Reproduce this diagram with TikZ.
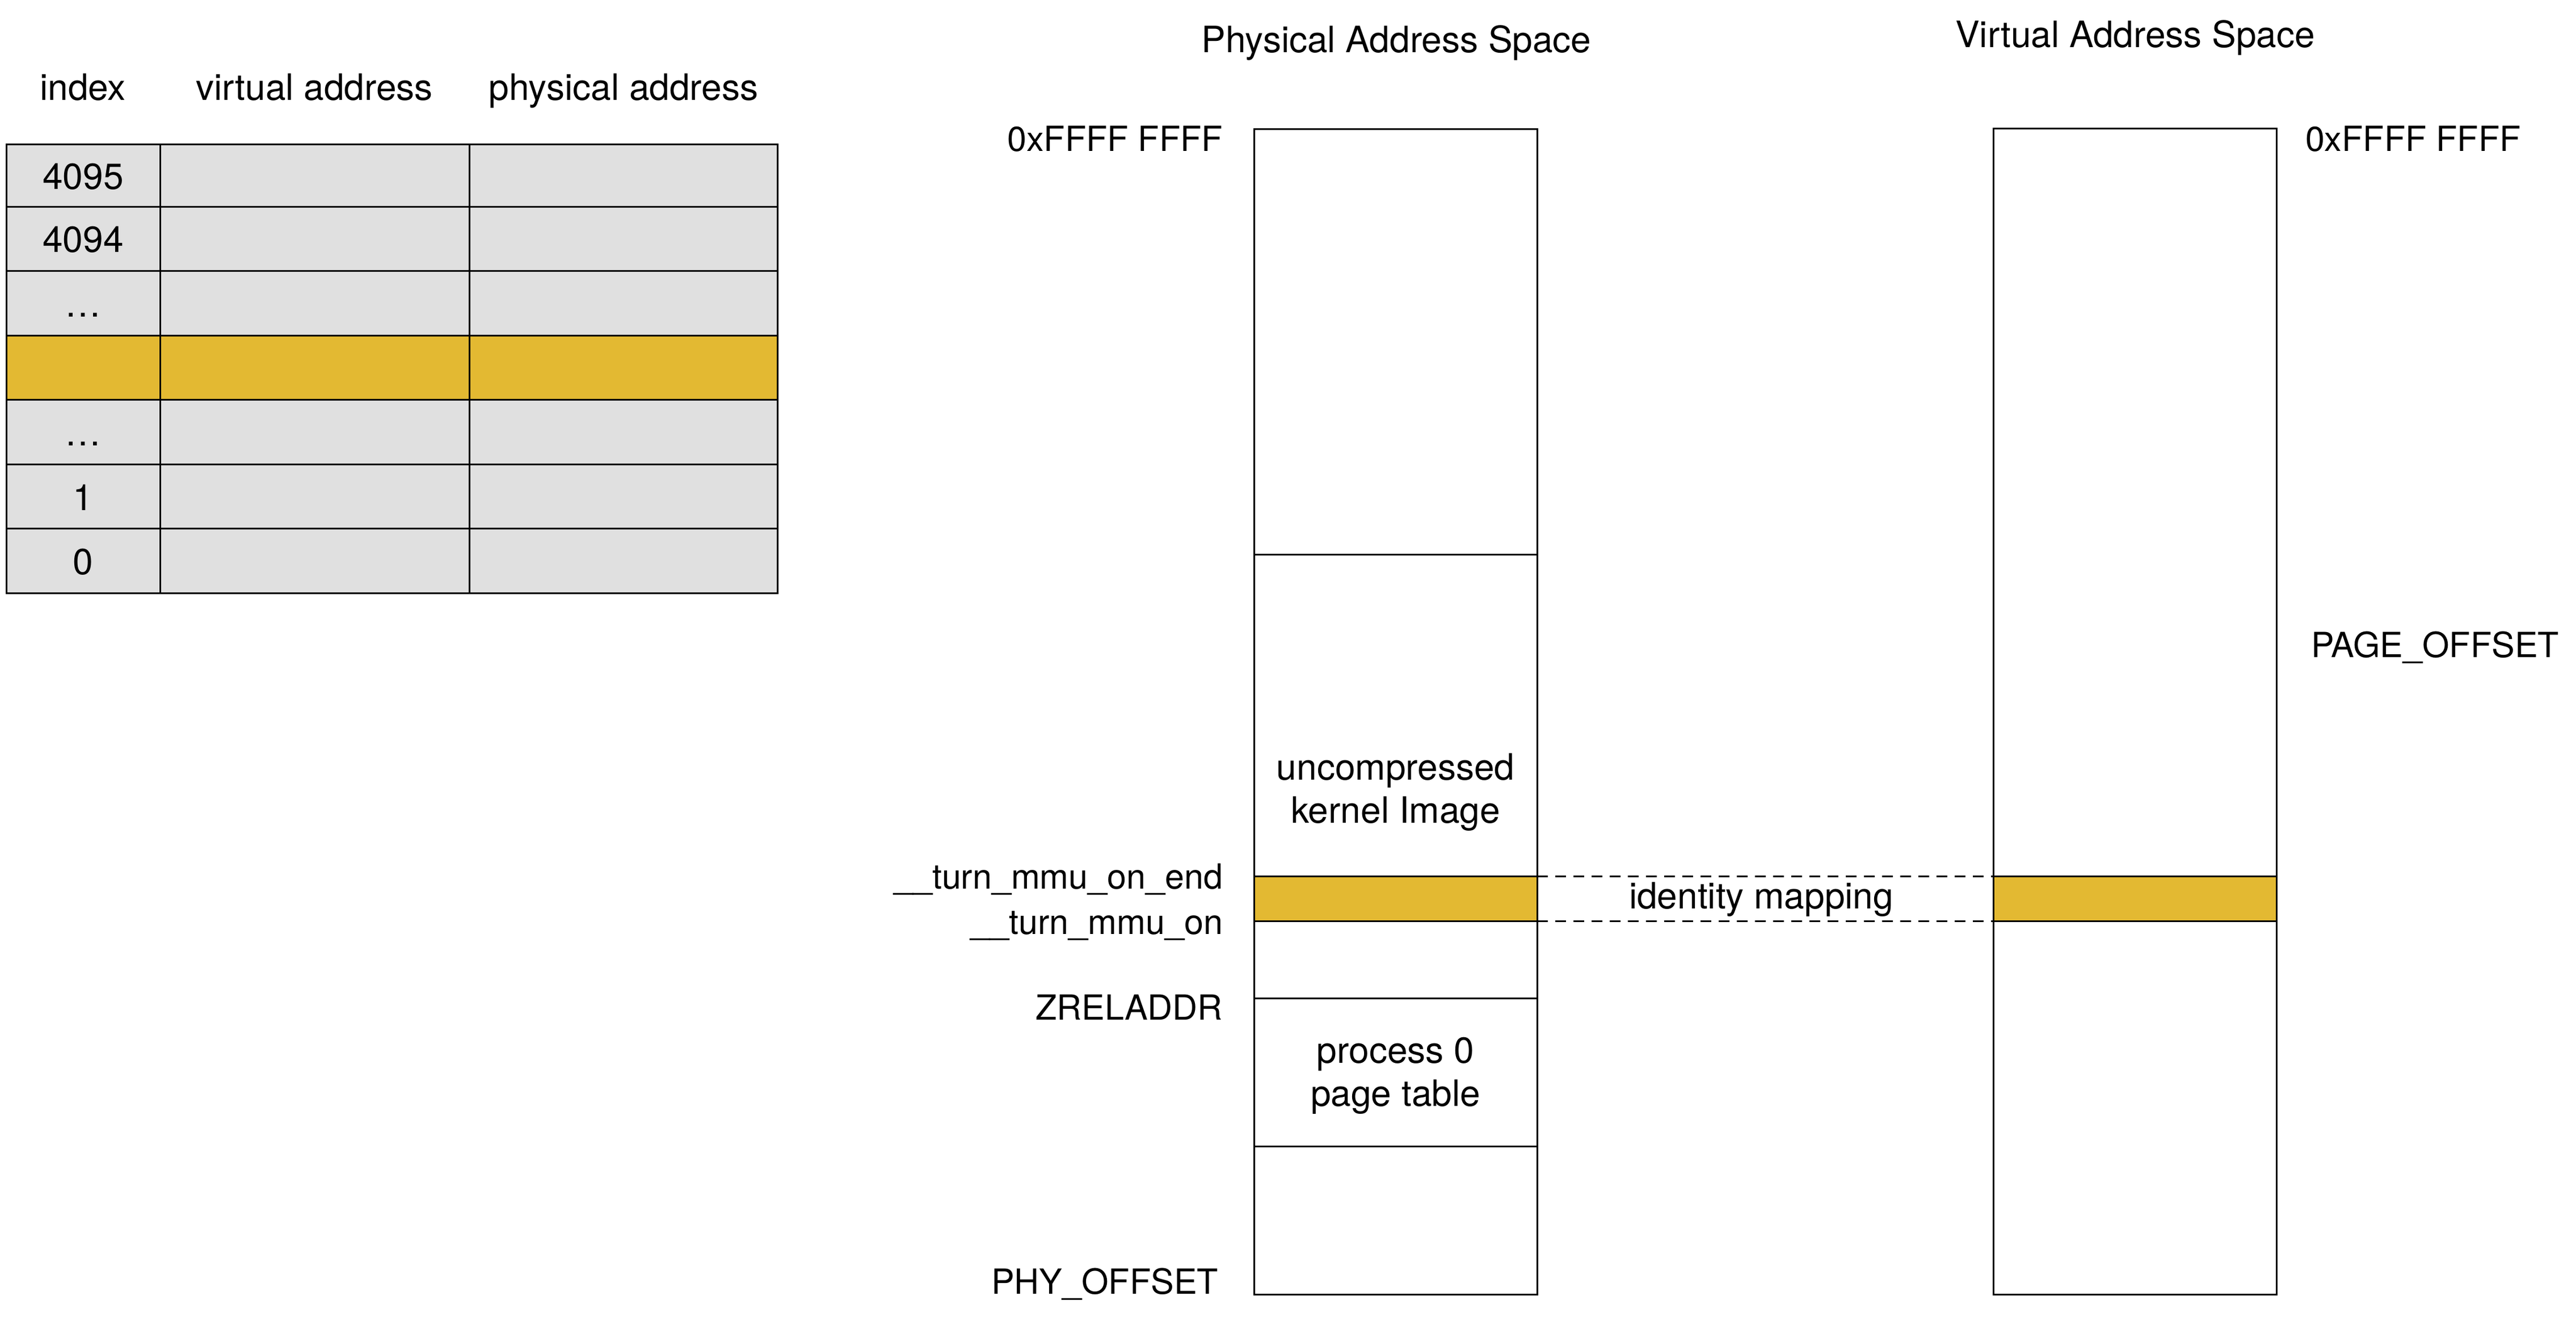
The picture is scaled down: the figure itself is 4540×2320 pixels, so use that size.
\documentclass[tikz,border=0pt]{standalone}
\usepackage{fontspec}
\setmainfont{TeX Gyre Heros}
\definecolor{cellgray}{HTML}{E0E0E0}
\definecolor{bandyellow}{HTML}{E3B932}
\begin{document}
\begin{tikzpicture}[x=0.2pt,y=-0.2pt, line width=0.6pt,
  lbl/.style={font=\fontsize{12.8}{15}\selectfont, inner sep=0pt, outer sep=0pt, anchor=base},
  caplbl/.style={lbl, font=\fontsize{12.2}{15}\selectfont},
  seg/.style={draw, line width=0.6pt, inner sep=0pt, outer sep=0pt, minimum width=99.8pt},
  band/.style={seg, fill=bandyellow},
  mapline/.style={line width=0.6pt, dash pattern=on 3.8pt off 2.6pt}]
\useasboundingbox (0,0) rectangle (4540,2320);

% ---------- page table ----------
\fill[cellgray] (11,254) rectangle (1370,1045);
\fill[bandyellow] (11,591) rectangle (1370,704.5);
\draw (11,254) rectangle (1370,1045);
\foreach \y in {364,477.5,591,704.5,818,931.5} \draw (11,\y) -- (1370,\y);
\foreach \x in {282.5,827} \draw (\x,254) -- (\x,1045);

\node[lbl] (hidx) at (146,176) {index};
\node[lbl] (hva)  at (554,176) {virtual address};
\node[lbl] (hpa)  at (1099,176) {physical address};
\node[lbl] (r4095) at (146.5,333) {4095};
\node[lbl] (r4094) at (146.5,444.5) {4094};
\node[lbl] (rdotsa) at (146.5,558) {…};
\node[lbl] (rdotsb) at (146.5,785) {…};
\node[lbl] (rone)  at (146.5,899) {1};
\node[lbl] (rzero) at (146.5,1012) {0};

% ---------- physical address space ----------
\node[lbl] (tphys) at (2461,92) {Physical Address Space};
\node[seg, minimum height=150pt]  (ptop)  at (2459.5,602) {};
\node[seg, minimum height=113.4pt] (pkern) at (2459.5,1260.5) {};
\node[band, minimum height=15.8pt] (pband) at (2459.5,1583.5) {};
\node[seg, minimum height=27.2pt] (pmid)  at (2459.5,1691) {};
\node[seg, minimum height=52.2pt] (ppgt)  at (2459.5,1889.5) {};
\node[seg, minimum height=52.2pt] (pbot)  at (2459.5,2150.5) {};

\node[lbl] (kimga) at (2459.5,1374.5) {uncompressed};
\node[lbl] (kimgb) at (2459.5,1450) {kernel Image};
\node[lbl] (pgta)  at (2459.5,1873) {process 0};
\node[lbl] (pgtb)  at (2459.5,1949) {page table};

\node[caplbl, anchor=base east] (ltop) at (2155,266)  {0xFFFF FFFF};
\node[caplbl, anchor=base east] (lend) at (2155,1566) {\_\_turn\_mmu\_on\_end};
\node[caplbl, anchor=base east] (lon)  at (2155,1646) {\_\_turn\_mmu\_on};
\node[caplbl, anchor=base east] (lzr)  at (2155,1797) {ZRELADDR};
\node[caplbl, anchor=base east] (lphy) at (2147,2280) {PHY\_OFFSET};

% ---------- virtual address space ----------
\node[lbl] (tvirt) at (3763,83) {Virtual Address Space};
\node[seg, minimum height=263.4pt] (vtop)  at (3762.5,885.5) {};
\node[band, minimum height=15.8pt] (vband) at (3762.5,1583.5) {};
\node[seg, minimum height=131.6pt] (vbot)  at (3762.5,1952) {};

\node[caplbl, anchor=base west] (rtop) at (4063,266)  {0xFFFF FFFF};
\node[caplbl, anchor=base west] (rpo)  at (4073,1158) {PAGE\_OFFSET};

% ---------- identity mapping ----------
\draw[mapline] (pband.north east) -- (vband.north west);
\draw[mapline] (pband.south east) -- (vband.south west);
\node[lbl] (idm) at (3104,1601.7) {identity mapping};
\end{tikzpicture}
\end{document}
